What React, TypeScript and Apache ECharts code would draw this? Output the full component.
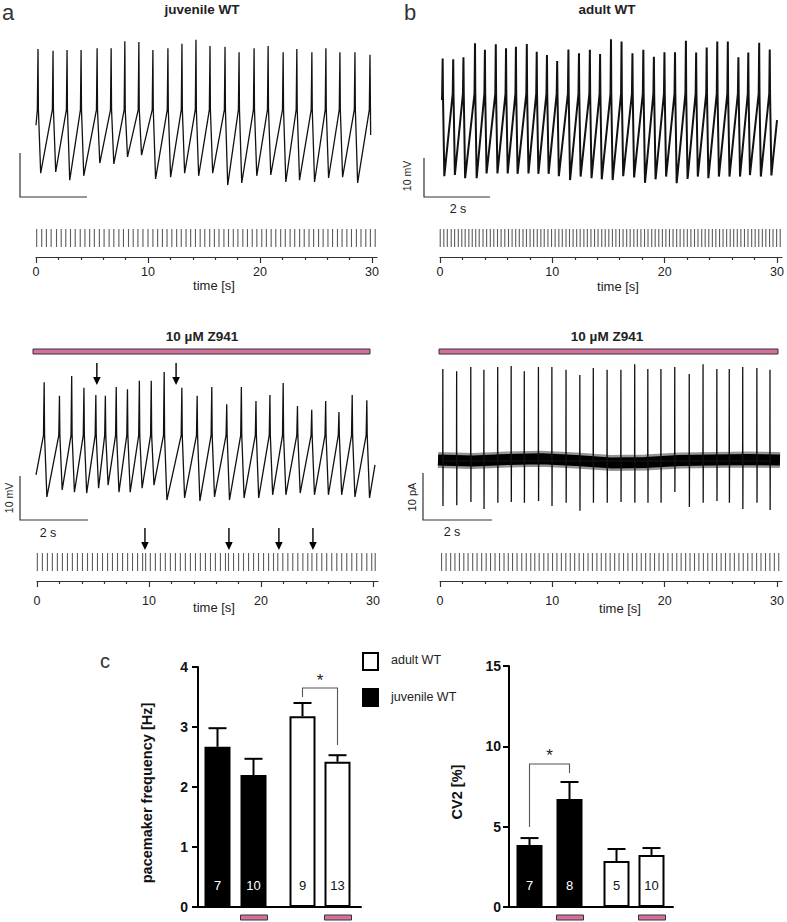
import React, { useEffect, useRef } from "react";
import * as echarts from "echarts";

const FONT = "Liberation Sans, Arial, Helvetica, sans-serif";
const PINK = "#d4709e";

// ---------- panel a, juvenile WT, control trace (membrane potential, mV; time, s) ----------
const juvSpikeT = [0.06, 0.51, 0.93, 1.35, 1.83, 2.25, 2.66, 3.08, 3.5, 3.95, 4.37, 4.79, 5.21, 5.66, 6.08, 6.53, 6.95, 7.4, 7.81, 8.26, 8.68, 9.1, 9.55, 10.0];
const juvPeakV = [-33.2, -33.6, -33.4, -33.4, -33.0, -33.0, -31.4, -31.6, -33.4, -33.0, -32.0, -31.1, -32.5, -32.7, -33.9, -33.0, -32.5, -33.9, -33.2, -33.9, -33.0, -33.9, -33.9, -34.5];
const juvTroughV = [-61.4, -61.1, -63.0, -62.0, -59.1, -59.3, -57.7, -57.3, -62.7, -62.3, -61.4, -62.0, -61.4, -64.1, -63.6, -62.0, -61.8, -63.4, -63.0, -63.4, -62.5, -62.3, -63.6];
const juvThresholdV = -47.0;
const juvStartV = -50.5;
const juvEnd = [10.02, -52.7];
const juvRasterLater = [10.44, 10.86, 11.29, 11.7, 12.13, 12.56, 12.97, 13.4, 13.81, 14.24, 14.66, 15.07, 15.51, 15.93, 16.34, 16.78, 17.19, 17.62, 18.03, 18.47, 18.88, 19.31, 19.72, 20.16, 20.57, 21.0, 21.41, 21.85, 22.26, 22.69, 23.1, 23.54, 23.95, 24.38, 24.79, 25.23, 25.64, 26.07, 26.48, 26.92, 27.33, 27.76, 28.17, 28.61, 29.02, 29.45, 29.86, 30.29];

// ---------- panel b, adult WT, control trace ----------
const adultSpikeT = [0.02, 0.34, 0.65, 1.0, 1.3, 1.63, 1.94, 2.24, 2.57, 2.87, 3.18, 3.49, 3.83, 4.15, 4.48, 4.79, 5.12, 5.44, 5.77, 6.1, 6.42, 6.74, 7.06, 7.39, 7.7, 8.02, 8.34, 8.66, 8.98, 9.28, 9.61, 9.93];
const adultPeakV = [-36.0, -36.2, -35.7, -32.1, -33.8, -32.4, -33.4, -33.0, -32.3, -34.3, -35.1, -36.7, -33.7, -34.7, -33.8, -34.9, -31.1, -31.7, -34.7, -33.8, -35.6, -34.4, -34.4, -31.5, -34.5, -33.2, -31.7, -31.7, -35.7, -34.5, -32.0, -33.7];
const adultTroughV = [-66.2, -65.9, -66.7, -66.7, -65.5, -65.5, -65.5, -65.6, -65.5, -65.6, -65.6, -66.2, -67.2, -66.3, -66.7, -67.0, -67.2, -66.2, -66.5, -67.9, -67.0, -66.3, -68.0, -66.9, -66.3, -66.7, -66.3, -66.3, -66.3, -65.9, -66.3, -66.0];
const adultThresholdV = -45.0;
const adultStartV = -46.7;
const adultEnd = [10.15, -51.8];
const adultRasterLater = [10.25, 10.58, 10.89, 11.22, 11.53, 11.85, 12.17, 12.48, 12.81, 13.12, 13.44, 13.76, 14.07, 14.4, 14.71, 15.03, 15.35, 15.66, 15.98, 16.3, 16.62, 16.93, 17.26, 17.57, 17.89, 18.21, 18.52, 18.85, 19.16, 19.48, 19.8, 20.11, 20.43, 20.75, 21.07, 21.38, 21.71, 22.02, 22.34, 22.66, 22.97, 23.3, 23.61, 23.93, 24.25, 24.56, 24.89, 25.2, 25.52, 25.84, 26.15, 26.47, 26.79, 27.11, 27.42, 27.75, 28.06, 28.38, 28.7, 29.01, 29.34, 29.65, 29.97, 30.29];

// ---------- panel a, juvenile WT + 10 µM Z941 ----------
const juvZSpikeT = [0.24, 0.69, 1.05, 1.41, 1.76, 2.04, 2.36, 2.69, 3.04, 3.39, 3.77, 4.29, 4.74, 5.17, 5.61, 6.04, 6.47, 6.88, 7.27, 7.69, 8.11, 8.52, 8.91, 9.3, 9.73];
const juvZPeakV = [-33.9, -37.0, -32.5, -35.2, -36.8, -37.0, -35.0, -35.5, -33.6, -33.6, -31.6, -35.2, -37.0, -35.0, -38.9, -35.0, -38.2, -36.8, -34.1, -39.3, -40.2, -38.2, -40.7, -36.8, -38.0];
const juvZTroughV = [-60.0, -58.4, -58.9, -59.1, -58.0, -57.3, -58.9, -58.9, -58.0, -57.3, -60.7, -60.2, -60.9, -60.0, -60.7, -60.2, -60.2, -59.5, -59.5, -59.1, -59.5, -59.5, -59.5, -60.0, -60.2];
const juvZThresholdV = -46.0;
const juvZStartV = -55.0;
const juvZEnd = [9.97, -52.7];
const juvZTraceArrowT = [1.79, 4.12];
const juvZRasterT = [0.03, 0.48, 0.93, 1.37, 1.82, 2.27, 2.72, 3.16, 3.61, 4.06, 4.51, 4.95, 5.4, 5.85, 6.3, 6.74, 7.19, 7.64, 8.09, 8.53, 8.98, 9.43, 9.7, 10.12, 10.57, 11.02, 11.46, 11.91, 12.36, 12.8, 13.25, 13.7, 14.15, 14.59, 15.04, 15.49, 15.93, 16.38, 16.83, 17.1, 17.55, 18.0, 18.44, 18.89, 19.34, 19.78, 20.23, 20.68, 21.12, 21.5, 21.95, 22.4, 22.84, 23.29, 23.74, 24.18, 24.55, 24.98, 25.43, 25.87, 26.32, 26.77, 27.21, 27.66, 28.11, 28.55, 29.0, 29.45, 29.89, 30.2];
const juvZRasterArrowT = [9.64, 17.14, 21.6, 24.64];

// ---------- panel b, adult WT + 10 µM Z941 (cell-attached current, pA) ----------
const adultZSpikeT = [0.14, 0.54, 0.95, 1.33, 1.73, 2.12, 2.5, 2.91, 3.3, 3.71, 4.11, 4.5, 4.9, 5.3, 5.7, 6.08, 6.46, 6.86, 7.28, 7.68, 8.08, 8.44, 8.83, 9.24, 9.62];
const adultZUpPA = [19.6, 19.1, 20.0, 19.4, 20.0, 20.2, 19.1, 20.0, 20.0, 19.4, 18.3, 19.8, 19.4, 19.4, 20.6, 19.6, 19.6, 20.0, 18.5, 20.6, 19.6, 19.6, 20.0, 19.8, 19.4];
const adultZDownPA = [-9.6, -9.4, -8.7, -10.2, -8.9, -8.7, -8.9, -8.5, -9.6, -8.9, -10.6, -8.9, -8.9, -8.7, -8.9, -8.9, -8.9, -6.6, -9.8, -8.9, -8.5, -8.9, -10.2, -8.9, -10.4];
const adultZBaseT = [0, 1, 2, 3, 4, 5, 6, 7, 8, 9, 9.91];
const adultZBasePA = [0.2, 0.0, 0.3, 0.5, 0.1, -0.4, -0.3, 0.1, 0.2, 0.3, 0.2];
const adultZRasterLater = [10.02, 10.41, 10.81, 11.2, 11.6, 11.99, 12.39, 12.78, 13.18, 13.57, 13.97, 14.36, 14.76, 15.15, 15.55, 15.94, 16.34, 16.73, 17.13, 17.52, 17.92, 18.31, 18.71, 19.1, 19.5, 19.89, 20.29, 20.68, 21.08, 21.47, 21.87, 22.26, 22.66, 23.05, 23.45, 23.84, 24.24, 24.63, 25.03, 25.42, 25.82, 26.21, 26.61, 27.0, 27.4, 27.79, 28.19, 28.58, 28.98, 29.37, 29.77, 30.16];

const timeTickLabels = [0, 10, 20, 30];
const timeMinorTicks = [2, 4, 6, 8, 12, 14, 16, 18, 22, 24, 26, 28];

// ---------- panel c ----------
const groups = ["juvenile WT", "juvenile WT", "adult WT", "adult WT"];
const treatedZ941 = [false, true, false, true];
const freqMean = [2.67, 2.2, 3.18, 2.42];
const freqSem = [0.31, 0.27, 0.22, 0.11];
const freqN = [7, 10, 9, 13];
const freqTicks = [0, 1, 2, 3, 4];
const cvMean = [3.86, 6.72, 2.86, 3.24];
const cvSem = [0.43, 1.06, 0.75, 0.43];
const cvN = [7, 8, 5, 10];
const cvTicks = [0, 5, 10, 15];
// [from bar, to bar, left end, top, right end, star]
const freqSig = [[2, 3, 3.5, 3.65, 2.7, 3.78]];
const cvSig = [[0, 1, 4.98, 8.9, 8.34, 9.46]];

// ---------- layout (pixel positions, not data) ----------
const LAYOUT_FREQ_BAR_X = [19.5, 55.5, 104.5, 139.5];
const LAYOUT_CV_BAR_X = [20.5, 60.5, 107.5, 142.5];
const BAR_W = 26;

function buildTrace(spikeT: number[], peakV: number[], troughV: number[], thr: number, startV: number, end: number[], riseDt: number, fallDt: number) {
  const pts: number[][] = [[0, startV]];
  spikeT.forEach((t, i) => {
    const prev = pts[pts.length - 1][0];
    if (t - riseDt > prev) pts.push([t - riseDt, thr]);
    pts.push([t, peakV[i]]);
    if (i < troughV.length) {
      pts.push([t + riseDt * 0.6, thr]);
      pts.push([t + fallDt, troughV[i]]);
    }
  });
  pts.push(end);
  return pts;
}

function buildCurrentSpikes(spikeT: number[], up: number[], down: number[]) {
  const pts: number[][] = [];
  spikeT.forEach((t, i) => {
    pts.push([t - 0.004, 0]);
    pts.push([t, up[i]]);
    pts.push([t + 0.004, down[i]]);
    pts.push([t + 0.008, 0]);
  });
  return pts;
}

function buildOption() {
  const grids = [
    { left: 36, top: 35, width: 340, height: 160 }, // 0 juv trace
    { left: 36, top: 229, width: 341, height: 18 }, // 1 juv raster
    { left: 442, top: 35, width: 336, height: 155 }, // 2 adult trace
    { left: 440, top: 229, width: 342, height: 18 }, // 3 adult raster
    { left: 36, top: 365, width: 340, height: 140 }, // 4 juvZ trace
    { left: 37, top: 553, width: 341, height: 18 }, // 5 juvZ raster
    { left: 438, top: 360, width: 342, height: 155 }, // 6 adultZ trace
    { left: 440, top: 553, width: 342, height: 18 }, // 7 adultZ raster
    { left: 198, top: 667, width: 163, height: 240 }, // 8 freq
    { left: 509, top: 666, width: 164, height: 241 }, // 9 cv
  ].map((g) => ({ ...g, containLabel: false, outerBoundsMode: "none" }));

  const hidden = (gi: number, min: number, max: number) => ({ type: "value", gridIndex: gi, min, max, show: false });
  const axisColor = "#333";
  const rasterMax = 30.45;
  const rasterAxes = (gi: number, margin: number) => [
    {
      type: "value", gridIndex: gi, min: 0, max: rasterMax, position: "bottom", offset: 10,
      axisLine: { show: true, onZero: false, lineStyle: { color: axisColor, width: 1.2 } },
      axisTick: { show: true, length: 6, customValues: timeTickLabels, lineStyle: { color: axisColor, width: 1.2 } },
      minorTick: { show: false },
      axisLabel: { show: true, customValues: timeTickLabels, margin, fontSize: 12.5, color: "#222", fontFamily: FONT },
      splitLine: { show: false },
    },
    {
      type: "value", gridIndex: gi, min: 0, max: rasterMax, position: "bottom", offset: 10,
      axisLine: { show: false, onZero: false },
      axisTick: { show: true, length: 3, customValues: timeMinorTicks, lineStyle: { color: axisColor, width: 1.2 } },
      axisLabel: { show: false },
      splitLine: { show: false },
    },
  ];
  const barXAxis = (gi: number, max: number) => ({
    type: "value", gridIndex: gi, min: 0, max,
    axisLine: { show: true, onZero: false, lineStyle: { color: "#000", width: 2 } },
    axisTick: { show: false }, axisLabel: { show: false }, splitLine: { show: false },
  });
  const barYAxis = (gi: number, ticks: number[], margin: number) => ({
    type: "value", gridIndex: gi, min: ticks[0], max: ticks[ticks.length - 1], interval: ticks[1] - ticks[0],
    axisLine: { show: true, onZero: false, lineStyle: { color: "#000", width: 2 } },
    axisTick: { show: true, length: 6, lineStyle: { color: "#000", width: 2 } },
    axisLabel: { fontWeight: "bold", fontSize: 14, color: "#111", margin, fontFamily: FONT },
    splitLine: { show: false },
  });

  const xAxis = [
    hidden(0, 0, 10.18), // 0
    ...rasterAxes(1, 8), // 1,2
    hidden(2, 0, 10.18), // 3
    ...rasterAxes(3, 8), // 4,5
    hidden(4, 0, 10), // 6
    ...rasterAxes(5, 13), // 7,8
    hidden(6, 0, 9.91), // 9
    ...rasterAxes(7, 13), // 10,11
    barXAxis(8, 163), // 12
    barXAxis(9, 164), // 13
  ];
  const yAxis = [
    hidden(0, -66.36, -30),
    hidden(1, -1, 1),
    hidden(2, -69.74, -30),
    hidden(3, -1, 1),
    hidden(4, -61.82, -30),
    hidden(5, -1, 1),
    hidden(6, -11.49, 21.49),
    hidden(7, -1, 1),
    barYAxis(8, freqTicks, 10),
    barYAxis(9, cvTicks, 8),
  ];

  const traceLine = (xi: number, yi: number, data: number[][], width: number) => ({
    type: "line", xAxisIndex: xi, yAxisIndex: yi, data, showSymbol: false, symbol: "none", silent: true,
    lineStyle: { color: "#111", width }, z: 3,
  });
  const raster = (xi: number, yi: number, times: number[]) => ({
    type: "scatter", xAxisIndex: xi, yAxisIndex: yi, data: times.map((t) => [t, 0]), silent: true,
    symbol: "rect", symbolSize: [1.1, 18], itemStyle: { color: "#333" },
  });
  const arrowRender = (offTop: number, offTip: number) => (params: any, api: any) => {
    const p = api.coord([api.value(0), api.value(1)]);
    const x = p[0];
    const yTail = p[1] + offTop;
    const yTip = p[1] + offTip;
    return {
      type: "group",
      children: [
        { type: "line", shape: { x1: x, y1: yTail, x2: x, y2: yTip - 6 }, style: { stroke: "#000", lineWidth: 1.4 } },
        { type: "polygon", shape: { points: [[x - 3.8, yTip - 8], [x + 3.8, yTip - 8], [x, yTip]] }, style: { fill: "#000" } },
      ],
    };
  };
  const arrows = (xi: number, yi: number, times: number[], yRef: number, offTop: number, offTip: number) => ({
    type: "custom", xAxisIndex: xi, yAxisIndex: yi, clip: false, silent: true, z: 5,
    data: times.map((t) => [t, yRef]),
    renderItem: arrowRender(offTop, offTip),
  });

  const barSeries = (xi: number, yi: number, pos: number[], mean: number[], n: number[]) => ({
    type: "bar", xAxisIndex: xi, yAxisIndex: yi, barWidth: BAR_W, silent: true, z: 2,
    data: mean.map((m, i) => {
      const juv = groups[i] === "juvenile WT";
      return {
        value: [pos[i], m],
        itemStyle: { color: juv ? "#000" : "#fff", borderColor: "#000", borderWidth: 2 },
        label: { color: juv ? "#fff" : "#111" },
      };
    }),
    label: {
      show: true, position: "insideBottom", distance: 15, fontSize: 13, fontFamily: FONT,
      formatter: (p: any) => String(n[p.dataIndex]),
    },
  });
  const errSeries = (xi: number, yi: number, pos: number[], mean: number[], sem: number[], cap: number) => ({
    type: "custom", xAxisIndex: xi, yAxisIndex: yi, clip: false, silent: true, z: 4,
    data: mean.map((m, i) => [pos[i], m, sem[i]]),
    renderItem: (params: any, api: any) => {
      const x = api.value(0), v = api.value(1), e = api.value(2);
      const b = api.coord([x, v]);
      const t = api.coord([x, v + e]);
      return {
        type: "group",
        children: [
          { type: "line", shape: { x1: b[0], y1: b[1], x2: t[0], y2: t[1] }, style: { stroke: "#000", lineWidth: 2 } },
          { type: "line", shape: { x1: t[0] - cap / 2, y1: t[1], x2: t[0] + cap / 2, y2: t[1] }, style: { stroke: "#000", lineWidth: 2 } },
        ],
      };
    },
  });
  const sigSeries = (xi: number, yi: number, pos: number[], sig: number[][]) => ({
    type: "custom", xAxisIndex: xi, yAxisIndex: yi, clip: false, silent: true, z: 4,
    data: sig,
    renderItem: (params: any, api: any) => {
      const x1 = pos[api.value(0)], x2 = pos[api.value(1)];
      const a = api.coord([x1, api.value(2)]);
      const b = api.coord([x1, api.value(3)]);
      const c = api.coord([x2, api.value(3)]);
      const d = api.coord([x2, api.value(4)]);
      const s = api.coord([(x1 + x2) / 2, api.value(5)]);
      return {
        type: "group",
        children: [
          { type: "polyline", shape: { points: [a, b, c, d] }, style: { stroke: "#555", lineWidth: 1.1, fill: "none" } },
          { type: "text", x: s[0], y: s[1], style: { text: "*", fontSize: 17, fontFamily: FONT, fill: "#222", align: "center", verticalAlign: "middle" } },
        ],
      };
    },
  });
  const treatSeries = (xi: number, yi: number, pos: number[]) => ({
    type: "custom", xAxisIndex: xi, yAxisIndex: yi, clip: false, silent: true, z: 4,
    data: treatedZ941.map((tr, i) => (tr ? [pos[i], 0] : null)).filter((d) => d !== null),
    renderItem: (params: any, api: any) => {
      const p = api.coord([api.value(0), api.value(1)]);
      return { type: "rect", shape: { x: p[0] - BAR_W / 2, y: p[1] + 8, width: BAR_W + 1, height: 5 }, style: { fill: PINK, stroke: "#333", lineWidth: 1 } };
    },
  });

  const baseData = adultZBaseT.map((t, i) => [t, adultZBasePA[i]]);
  const series = [
    traceLine(0, 0, buildTrace(juvSpikeT, juvPeakV, juvTroughV, juvThresholdV, juvStartV, juvEnd, 0.02, 0.08), 1.3),
    raster(1, 1, [...juvSpikeT, ...juvRasterLater]),
    traceLine(3, 2, buildTrace(adultSpikeT, adultPeakV, adultTroughV, adultThresholdV, adultStartV, adultEnd, 0.015, 0.05), 2),
    raster(4, 3, [...adultSpikeT, ...adultRasterLater]),
    traceLine(6, 4, buildTrace(juvZSpikeT, juvZPeakV, juvZTroughV, juvZThresholdV, juvZStartV, juvZEnd, 0.02, 0.08), 1.3),
    arrows(6, 4, juvZTraceArrowT, -30, -2, 20),
    raster(7, 5, juvZRasterT),
    arrows(7, 5, juvZRasterArrowT, 1, -25, -3),
    {
      type: "line", xAxisIndex: 9, yAxisIndex: 6, data: baseData,
      showSymbol: false, symbol: "none", silent: true, lineStyle: { color: "#111", width: 16, opacity: 0.45 }, z: 2,
    },
    {
      type: "line", xAxisIndex: 9, yAxisIndex: 6, data: baseData,
      showSymbol: false, symbol: "none", silent: true, lineStyle: { color: "#000", width: 11 }, z: 2,
    },
    traceLine(9, 6, buildCurrentSpikes(adultZSpikeT, adultZUpPA, adultZDownPA), 1.3),
    raster(10, 7, [...adultZSpikeT, ...adultZRasterLater]),
    barSeries(12, 8, LAYOUT_FREQ_BAR_X, freqMean, freqN),
    errSeries(12, 8, LAYOUT_FREQ_BAR_X, freqMean, freqSem, 18),
    sigSeries(12, 8, LAYOUT_FREQ_BAR_X, freqSig),
    treatSeries(12, 8, LAYOUT_FREQ_BAR_X),
    barSeries(13, 9, LAYOUT_CV_BAR_X, cvMean, cvN),
    errSeries(13, 9, LAYOUT_CV_BAR_X, cvMean, cvSem, 18),
    sigSeries(13, 9, LAYOUT_CV_BAR_X, cvSig),
    treatSeries(13, 9, LAYOUT_CV_BAR_X),
  ];

  const txt = (text: string, x: number, y: number, o: any = {}) => ({
    type: "text", x, y, rotation: o.rotation || 0, silent: true,
    style: {
      text, fontSize: o.fontSize || 13, fontWeight: o.fontWeight || "normal", fontFamily: FONT,
      fill: o.fill || "#222", align: o.align || "center", verticalAlign: "middle",
    },
  });
  const bar = (pts: number[][]) => ({ type: "polyline", silent: true, shape: { points: pts }, style: { stroke: "#333", lineWidth: 1.2, fill: "none" } });
  const R = Math.PI / 2;

  const graphic = [
    txt("a", 8, 12, { fontSize: 22, fill: "#333" }),
    txt("b", 410, 12, { fontSize: 22, fill: "#333" }),
    txt("c", 105, 661, { fontSize: 20, fill: "#333" }),
    txt("juvenile WT", 202, 9, { fontSize: 13.5, fontWeight: "bold" }),
    txt("adult WT", 607, 9, { fontSize: 13.5, fontWeight: "bold" }),
    txt("10 µM Z941", 202, 336, { fontSize: 13.5, fontWeight: "bold" }),
    txt("10 µM Z941", 607, 336, { fontSize: 13.5, fontWeight: "bold" }),
    { type: "rect", silent: true, shape: { x: 33, y: 349, width: 337, height: 5 }, style: { fill: PINK, stroke: "#333", lineWidth: 1 } },
    { type: "rect", silent: true, shape: { x: 439, y: 349, width: 339, height: 5 }, style: { fill: PINK, stroke: "#333", lineWidth: 1 } },
    // scale bars
    bar([[20, 153], [20, 197], [87, 197]]),
    bar([[424, 158], [424, 197], [490, 197]]),
    txt("10 mV", 407, 176, { fontSize: 10.5, rotation: R }),
    txt("2 s", 458, 209, { fontSize: 12.5 }),
    bar([[20, 476], [20, 520], [88, 520]]),
    txt("10 mV", 9, 498, { fontSize: 10.5, rotation: R }),
    txt("2 s", 48, 533, { fontSize: 12.5 }),
    bar([[423, 473], [423, 520], [492, 520]]),
    txt("10 pA", 412, 497, { fontSize: 11, rotation: R }),
    txt("2 s", 452, 532, { fontSize: 12.5 }),
    // time axis names
    txt("time [s]", 214, 285),
    txt("time [s]", 618, 286),
    txt("time [s]", 214, 607),
    txt("time [s]", 620, 608),
    // bar chart axis names
    txt("pacemaker frequency [Hz]", 147, 793, { fontSize: 14.5, fontWeight: "bold", rotation: R, fill: "#111" }),
    txt("CV2 [%]", 457, 792, { fontSize: 14.5, fontWeight: "bold", rotation: R, fill: "#111" }),
    // legend
    { type: "rect", silent: true, shape: { x: 363, y: 653, width: 15, height: 17 }, style: { fill: "#fff", stroke: "#000", lineWidth: 2 } },
    txt("adult WT", 391, 660, { align: "left", fontSize: 12.5 }),
    { type: "rect", silent: true, shape: { x: 363, y: 689, width: 15, height: 17 }, style: { fill: "#000", stroke: "#000", lineWidth: 2 } },
    txt("juvenile WT", 391, 697, { align: "left", fontSize: 12.5 }),
  ];

  return {
    animation: false,
    backgroundColor: "#fff",
    textStyle: { fontFamily: FONT },
    grid: grids,
    xAxis,
    yAxis,
    series,
    graphic,
  };
}

export default function App() {
  const ref = useRef<HTMLDivElement>(null);
  useEffect(() => {
    if (!ref.current) return;
    const chart = echarts.init(ref.current, null, { renderer: "svg", width: 787, height: 922 });
    chart.setOption(buildOption() as any);
    return () => chart.dispose();
  }, []);
  return <div ref={ref} style={{ position: "absolute", left: 0, top: 0, width: 787, height: 922, background: "#fff" }} />;
}
